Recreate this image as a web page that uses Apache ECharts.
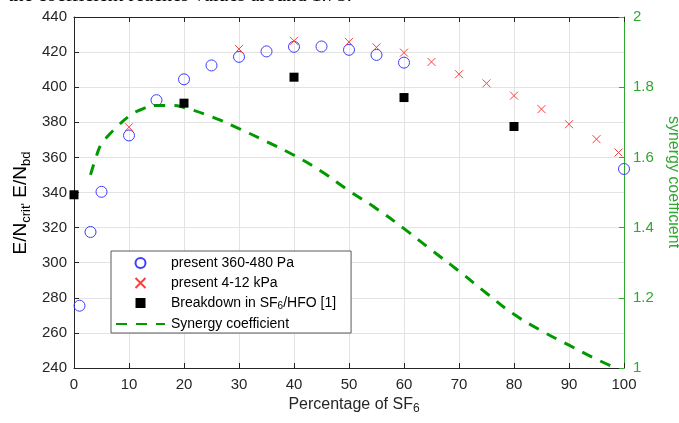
<!DOCTYPE html>
<html>
<head>
<meta charset="utf-8">
<script src="https://cdn.jsdelivr.net/npm/echarts@6/dist/echarts.min.js"></script>
<style>
html,body{margin:0;padding:0;background:#fff;}
#c{width:679px;height:423px;}
</style>
</head>
<body>
<div id="c"></div>
<script>
// ---- data ----
const pctCircles = [1, 3, 5, 10, 15, 20, 25, 30, 35, 40, 45, 50, 55, 60, 100];
const enCircles  = [275.5, 317.5, 340.4, 372.5, 392.6, 404.5, 412.4, 417.3, 420.4, 423.0, 423.2, 421.3, 418.4, 414.0, 353.4];

const pctCrosses = [10, 30, 40, 50, 55, 60, 65, 70, 75, 80, 85, 90, 95, 99];
const enCrosses  = [377.2, 421.8, 426.4, 425.8, 422.7, 419.7, 414.4, 407.4, 402.2, 395.2, 387.5, 378.9, 370.4, 362.8];

const pctBreakdown = [0, 20, 40, 60, 80];
const enBreakdown  = [338.7, 390.9, 405.7, 394.1, 377.6];

const pctSynergy = [3, 4, 5, 6, 8, 10, 12, 15, 18, 20, 25, 30, 35, 40, 45, 50, 55, 60, 65, 70, 75, 80, 85, 90, 95, 98.5];
const synergy    = [1.55, 1.60, 1.64, 1.658, 1.69, 1.717, 1.735, 1.748, 1.748, 1.742, 1.716, 1.682, 1.645, 1.606, 1.560, 1.505, 1.454, 1.397, 1.336, 1.276, 1.213, 1.153, 1.106, 1.065, 1.025, 1.0];

const seriesNames = ['present 360-480 Pa', 'present 4-12 kPa', 'Breakdown in SF6/HFO [1]', 'Synergy coefficient'];
const xTicks = {min: 0, max: 100, interval: 10};
const yLeftTicks = {min: 240, max: 440, interval: 20};
const yRightTicks = {min: 1, max: 2, interval: 0.2};

// ---- styling ----
const FONT = 'Liberation Sans, Arial, Helvetica, sans-serif';
const DARK = '#262626';
const GREEN_AX = '#2fa82f';
const GREEN_LINE = '#009a00';
const GRID = '#e3e3e3';

function zip(a, b) { return a.map((v, i) => [v, b[i]]); }

const chart = echarts.init(document.getElementById('c'), null, {renderer: 'canvas'});

const topText = 'the coefficient reaches values around 1.75.';
let topSize = 20;
try {
  const cv = document.createElement('canvas').getContext('2d');
  cv.font = '20px "Liberation Serif"';
  const w = cv.measureText(topText).width;
  if (w > 0) topSize = 20 * 344 / w;
} catch (e) {}

const option = {
  animation: false,
  backgroundColor: '#fff',
  grid: {left: 74, right: 55, top: 17, bottom: 55, containLabel: false},
  xAxis: [{
    type: 'value', min: xTicks.min, max: xTicks.max, interval: xTicks.interval,
    axisLine: {show: true, onZero: false, lineStyle: {color: DARK, width: 1}},
    axisTick: {show: true, inside: true, length: 5, lineStyle: {color: DARK}},
    axisLabel: {color: DARK, fontSize: 15, fontFamily: FONT, margin: 9},
    splitLine: {show: true, lineStyle: {color: GRID, width: 1}}
  }, {
    type: 'value', position: 'top', min: xTicks.min, max: xTicks.max, interval: xTicks.interval,
    axisLine: {show: true, onZero: false, lineStyle: {color: DARK, width: 1}},
    axisTick: {show: true, inside: true, length: 5, lineStyle: {color: DARK}},
    axisLabel: {show: false},
    splitLine: {show: false}
  }],
  yAxis: [{
    type: 'value', position: 'left', min: yLeftTicks.min, max: yLeftTicks.max, interval: yLeftTicks.interval,
    axisLine: {show: true, onZero: false, lineStyle: {color: DARK, width: 1}},
    axisTick: {show: true, inside: true, length: 5, lineStyle: {color: DARK}},
    axisLabel: {color: DARK, fontSize: 15, fontFamily: FONT, margin: 7},
    splitLine: {show: true, lineStyle: {color: GRID, width: 1}}
  }, {
    type: 'value', position: 'right', min: yRightTicks.min, max: yRightTicks.max, interval: yRightTicks.interval,
    axisLine: {show: true, onZero: false, lineStyle: {color: GREEN_AX, width: 1}},
    axisTick: {show: true, inside: true, length: 5, lineStyle: {color: GREEN_AX}},
    axisLabel: {color: GREEN_AX, fontSize: 15, fontFamily: FONT, margin: 9},
    splitLine: {show: false}
  }],
  legend: {
    orient: 'vertical', left: 111, top: 251,
    backgroundColor: '#fff', borderColor: '#5a5a5a', borderWidth: 1, borderRadius: 0,
    padding: [5, 15, 2, 4],
    itemWidth: 49, itemHeight: 10, itemGap: 6,
    symbolKeepAspect: true,
    data: [
      {name: seriesNames[0]},
      {name: seriesNames[1]},
      {name: seriesNames[2], icon: 'path://M0,0H10V10H0Z'},
      {name: seriesNames[3], itemStyle: {color: 'transparent', borderColor: 'transparent', borderWidth: 0, opacity: 0}}
    ],
    formatter: function (n) {
      if (n.indexOf('SF6') >= 0) return '{b|Breakdown in SF}{s|6}{b|/HFO [1]}';
      return '{b|' + n + '}';
    },
    textStyle: {
      color: '#000', fontSize: 14, fontFamily: FONT, padding: [0, 0, 0, 1],
      rich: {
        b: {fontSize: 14, fontFamily: FONT, color: '#000', lineHeight: 16},
        s: {fontSize: 10, fontFamily: FONT, color: '#000', lineHeight: 8, verticalAlign: 'bottom'}
      }
    }
  },
  graphic: [
    {
      type: 'text', x: 8, y: -4, silent: true,
      style: {text: topText, fontFamily: 'Liberation Serif, Times New Roman, serif', fontSize: topSize,
              fill: '#000', align: 'left', verticalAlign: 'middle'}
    },
    {
      type: 'text', x: 354, y: 405, silent: true,
      style: {
        text: '{b|Percentage of SF}{s|6}', align: 'center', verticalAlign: 'middle',
        rich: {
          b: {fontSize: 16, fontFamily: FONT, fill: DARK, lineHeight: 20},
          s: {fontSize: 12, fontFamily: FONT, fill: DARK, lineHeight: 10, verticalAlign: 'bottom'}
        }
      }
    },
    {
      type: 'text', x: 21, y: 203, rotation: Math.PI / 2, silent: true,
      style: {
        text: "{b|E/N}{s|crit'}{b| E/N}{s|bd}", align: 'center', verticalAlign: 'middle',
        rich: {
          b: {fontSize: 19, fontFamily: FONT, fill: '#000', lineHeight: 24},
          s: {fontSize: 13, fontFamily: FONT, fill: '#000', lineHeight: 11, verticalAlign: 'bottom'}
        }
      }
    },
    {
      type: 'text', x: 673, y: 182, rotation: -Math.PI / 2, silent: true,
      style: {text: 'synergy coefficient', fontSize: 16, fontFamily: FONT, fill: GREEN_AX,
              align: 'center', verticalAlign: 'middle'}
    }
  ],
  series: [
    {
      name: seriesNames[0], type: 'scatter', xAxisIndex: 0, yAxisIndex: 0,
      data: zip(pctCircles, enCircles), symbol: 'circle', symbolSize: 11,
      itemStyle: {color: 'transparent', borderColor: '#3d3dff', borderWidth: 1, opacity: 1},
      z: 3
    },
    {
      name: seriesNames[1], type: 'scatter', xAxisIndex: 0, yAxisIndex: 0,
      data: zip(pctCrosses, enCrosses), symbol: 'path://M0,0L10,10M0,10L10,0', symbolSize: 8,
      itemStyle: {color: 'transparent', borderColor: '#ff3d3d', borderWidth: 1, opacity: 1},
      z: 4
    },
    {
      name: seriesNames[2], type: 'scatter', xAxisIndex: 0, yAxisIndex: 0,
      data: zip(pctBreakdown, enBreakdown), symbol: 'rect', symbolSize: 9, symbolKeepAspect: true,
      itemStyle: {color: '#000', opacity: 1},
      z: 5
    },
    {
      name: seriesNames[3], type: 'line', xAxisIndex: 0, yAxisIndex: 1,
      data: zip(pctSynergy, synergy), smooth: true, symbol: 'none',
      lineStyle: {color: GREEN_LINE, width: 3, type: [11, 9]},
      itemStyle: {color: GREEN_LINE},
      z: 2
    }
  ]
};
chart.setOption(option);
</script>
</body>
</html>
